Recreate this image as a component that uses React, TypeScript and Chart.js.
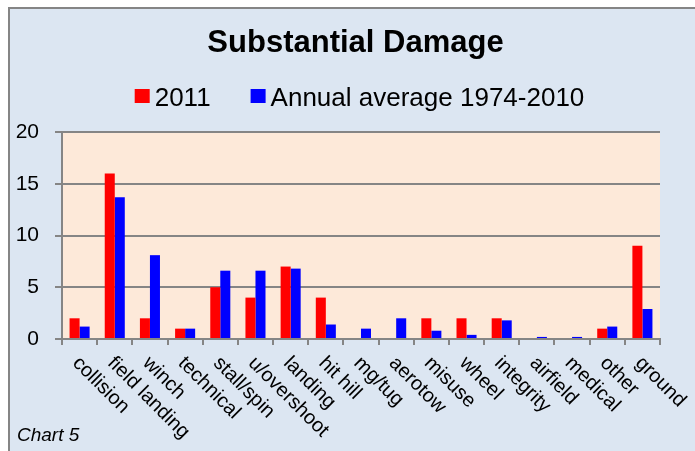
import { useEffect, useRef } from 'react';
import { Chart, registerables } from 'chart.js';

Chart.register(...registerables);

const titleText = 'Substantial Damage';
const footText = 'Chart 5';
const categories = [
  'collision', 'field landing', 'winch', 'technical', 'stall/spin', 'u/overshoot',
  'landing', 'hit hill', 'mg/tug', 'aerotow', 'misuse', 'wheel', 'integrity',
  'airfield', 'medical', 'other', 'ground',
];
const seriesLabels = ['2011', 'Annual average 1974-2010'];
const values2011 = [2, 16, 2, 1, 5, 4, 7, 4, 0, 0, 2, 2, 2, 0, 0, 1, 9];
const valuesAverage = [1.2, 13.7, 8.1, 1.0, 6.6, 6.6, 6.8, 1.4, 1.0, 2.0, 0.8, 0.4, 1.8, 0.2, 0.2, 1.2, 2.9];
const yMin = 0;
const yMax = 20;
const yStep = 5;

const FONT = "'Liberation Sans', Arial, sans-serif";

export default function App() {
  const ref = useRef<HTMLCanvasElement>(null);

  useEffect(() => {
    const canvas = ref.current;
    if (!canvas) return;

    const decorPlugin = {
      id: 'decor',
      beforeDraw(chart: any) {
        const { ctx, width, height, chartArea } = chart;
        ctx.save();
        ctx.fillStyle = '#ffffff';
        ctx.fillRect(0, 0, width, height);
        ctx.fillStyle = '#dce6f2';
        ctx.fillRect(8, 7, width - 8, height - 7);
        ctx.fillStyle = '#858585';
        ctx.fillRect(8, 7, width - 8, 2);
        ctx.fillRect(8, 7, 2, height - 7);
        ctx.fillStyle = '#fde9d9';
        ctx.fillRect(chartArea.left, chartArea.top, chartArea.right - chartArea.left, chartArea.bottom - chartArea.top);
        ctx.restore();
      },
      afterDraw(chart: any) {
        const { ctx } = chart;
        const xs = chart.scales.x;
        ctx.save();
        ctx.fillStyle = '#000';
        ctx.font = `20px ${FONT}`;
        ctx.textAlign = 'left';
        ctx.textBaseline = 'middle';
        (chart.data.labels as string[]).forEach((lab, i) => {
          const cx = xs.getPixelForValue(i);
          ctx.save();
          ctx.translate(cx - 4, 360);
          ctx.rotate(Math.PI / 4);
          ctx.fillText(lab, 0, 0);
          ctx.restore();
        });

        // legend
        ctx.font = `26px ${FONT}`;
        ctx.textBaseline = 'alphabetic';
        const items = chart.data.datasets.map((d: any) => ({
          text: d.label as string,
          color: d.backgroundColor as string,
          w: ctx.measureText(d.label).width,
        }));
        const boxW = 15, boxH = 14, gap = 5, itemGap = 40;
        const total = items.reduce((s: number, it: any) => s + boxW + gap + it.w, 0) + itemGap * (items.length - 1);
        let x = 359.5 - total / 2;
        items.forEach((it: any) => {
          ctx.fillStyle = it.color;
          ctx.fillRect(x, 89, boxW, boxH);
          x += boxW + gap;
          ctx.fillStyle = '#000';
          ctx.fillText(it.text, x, 106);
          x += it.w + itemGap;
        });

        ctx.font = `italic 19px ${FONT}`;
        ctx.fillText(footText, 17, 441);
        ctx.restore();
      },
    };

    const chart = new Chart(canvas, {
      type: 'bar',
      data: {
        labels: categories,
        datasets: [
          { label: seriesLabels[0], data: values2011, backgroundColor: '#ff0000', borderWidth: 0, categoryPercentage: 0.57, barPercentage: 1.0 },
          { label: seriesLabels[1], data: valuesAverage, backgroundColor: '#0000ff', borderWidth: 0, categoryPercentage: 0.57, barPercentage: 1.0 },
        ],
      },
      options: {
        responsive: false,
        animation: false,
        layout: { padding: { left: 16, right: 0, top: 0, bottom: 0 } },
        plugins: {
          legend: { display: false },
          tooltip: { enabled: false },
          title: {
            display: true,
            text: titleText,
            color: '#000',
            font: { family: FONT, size: 31, weight: 'bold' },
            padding: { top: 25, bottom: 69.8 },
          },
        },
        scales: {
          x: {
            grid: { display: true, drawOnChartArea: false, drawTicks: true, tickLength: 6, color: '#858585', lineWidth: 2, offset: true },
            border: { display: true, color: '#858585', width: 2 },
            ticks: { display: false },
            afterFit: (s: any) => { s.height = 112; },
          },
          y: {
            min: yMin,
            max: yMax,
            ticks: { stepSize: yStep, font: { family: FONT, size: 21 }, color: '#000', padding: 16 },
            grid: { color: '#858585', lineWidth: 2, tickLength: 7, drawTicks: true },
            border: { display: true, color: '#858585', width: 2 },
            afterFit: (s: any) => { s.width = 46; },
          },
          yRight: {
            position: 'right',
            display: true,
            grid: { display: false, drawTicks: false },
            border: { display: false },
            ticks: { display: false },
            afterFit: (s: any) => { s.width = 35; },
          },
        },
      },
      plugins: [decorPlugin],
    } as any);

    return () => chart.destroy();
  }, []);

  return (
    <div style={{ position: 'absolute', left: 0, top: 0, width: 695, height: 451 }}>
      <canvas ref={ref} width={695} height={451} style={{ display: 'block', width: 695, height: 451 }} />
    </div>
  );
}
